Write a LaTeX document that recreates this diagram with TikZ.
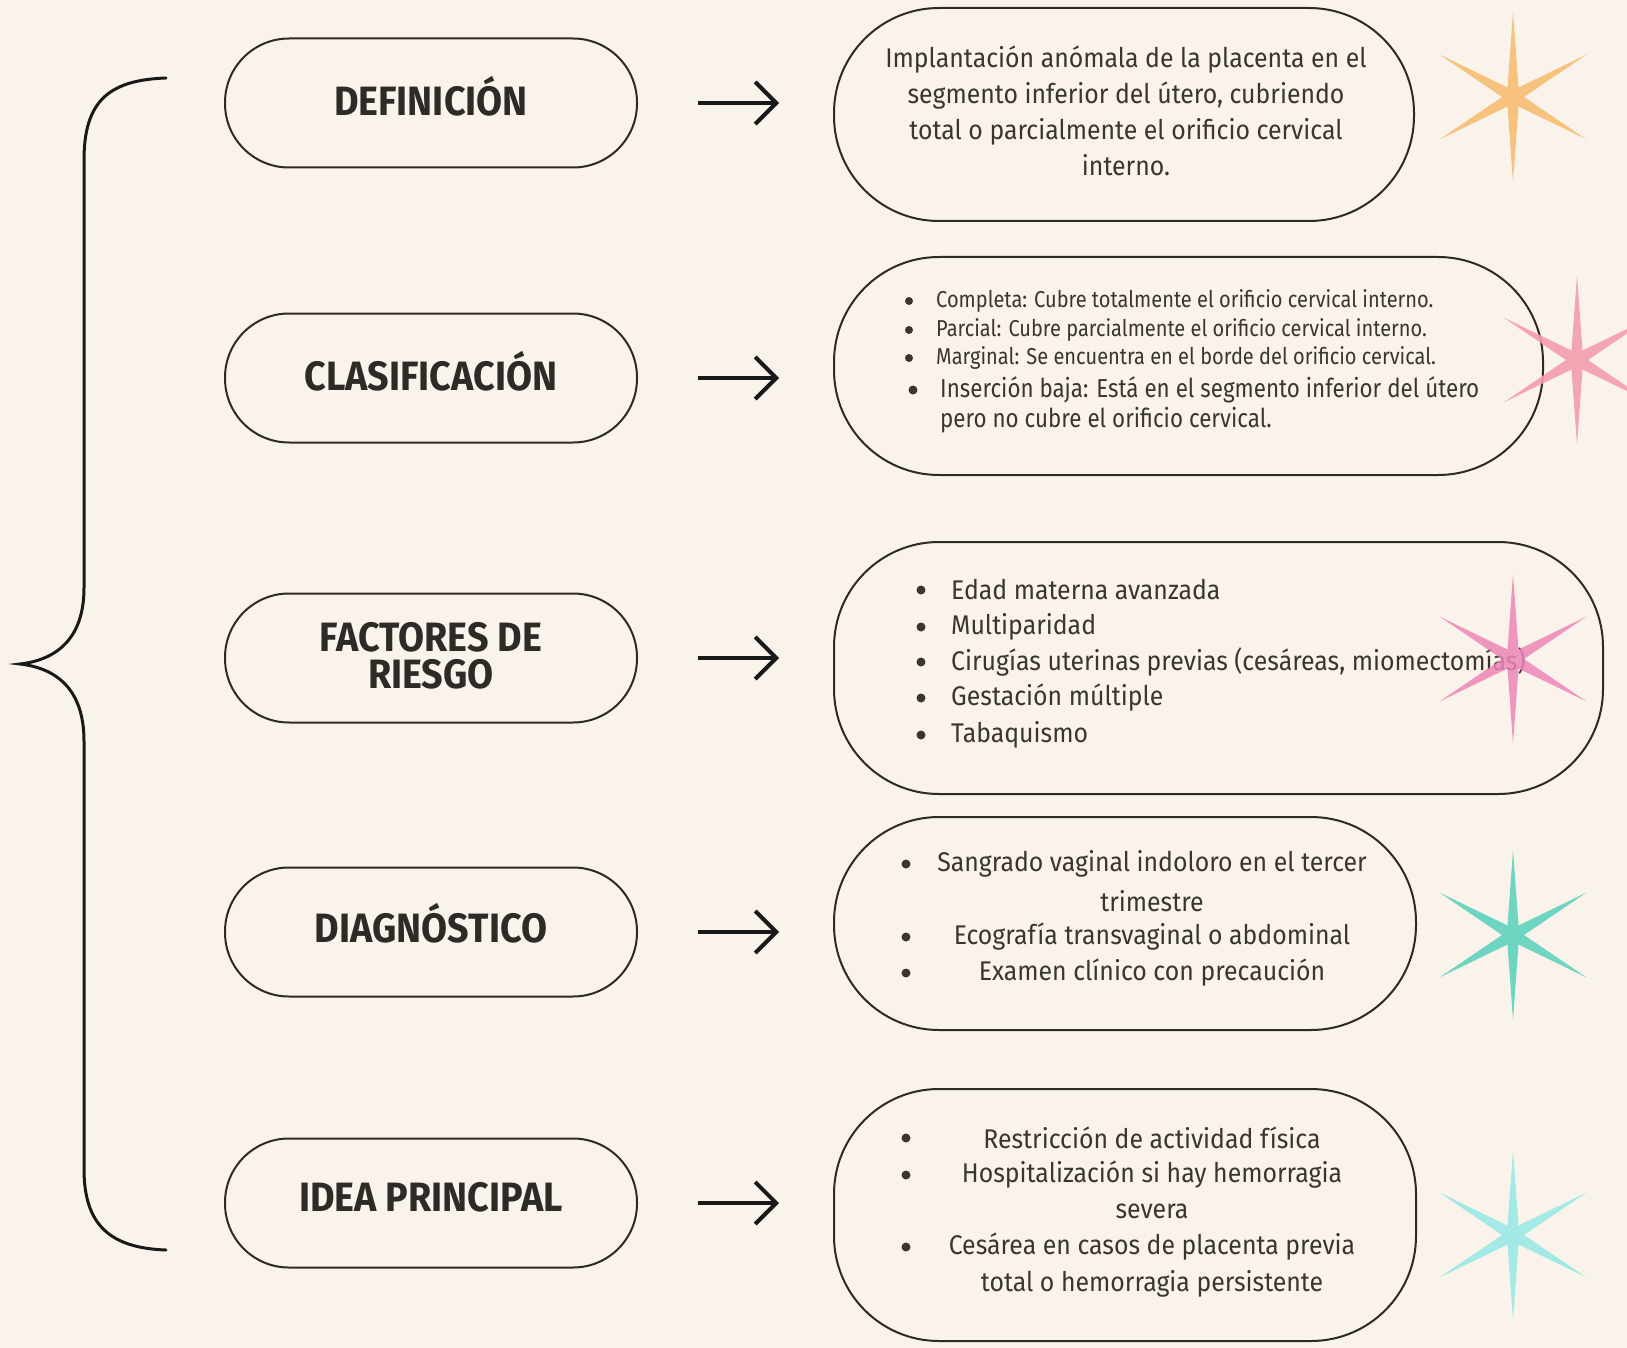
\documentclass[tikz,border=0pt]{standalone}
\usepackage{fontspec}
\usetikzlibrary{arrows.meta}
\newfontfamily\bodyf[FakeStretch=0.92]{Fira Sans}
\newfontfamily\smallf[FakeStretch=0.87]{Fira Sans}
\newfontfamily\midf[FakeStretch=0.86]{Fira Sans}
\newfontfamily\titlef[FakeStretch=0.92]{Fira Sans}
\definecolor{bg}{HTML}{FAF3EB}
\definecolor{ink}{HTML}{2E2A27}
\definecolor{txt}{HTML}{3A3531}
\definecolor{sOrange}{HTML}{F6C27E}
\definecolor{sPink}{HTML}{F39DAE}
\definecolor{sMagenta}{HTML}{EE86B8}
\definecolor{sTeal}{HTML}{6ED5C2}
\definecolor{sCyan}{HTML}{A3EAE6}
\tikzset{
  titlebox/.style={draw=ink, line width=2pt, rounded corners=64pt, minimum width=412pt,
    minimum height=129pt, inner sep=0pt},
  titletext/.style={inner sep=0pt, align=center, text=ink,
    font=\titlef\bfseries\fontsize{41}{41}\selectfont},
  infobox/.style={draw=ink, line width=2pt, rounded corners=105pt, inner sep=0pt},
  body/.style={text=txt, inner sep=0pt, font=\bodyf\fontsize{27}{36}\selectfont},
  bodysmall/.style={text=txt, inner sep=0pt, font=\smallf\fontsize{23}{28}\selectfont},
  bodymid/.style={text=txt, inner sep=0pt, font=\midf\fontsize{26}{30}\selectfont},
  bul/.style={circle, fill=txt, inner sep=0pt, minimum size=9pt},
  arr/.style={draw=black!90, line width=4pt, -{Straight Barb[length=21pt,width=42pt]}},
  sparkle/.pic={\fill (90:85) -- (60:11) -- (30:85) -- (0:11) -- (-30:85) -- (-60:11)
    -- (-90:85) -- (-120:11) -- (-150:85) -- (180:11) -- (150:85) -- (120:11) -- cycle;}
}
\begin{document}
\begin{tikzpicture}[x=1pt,y=-1pt]
\fill[bg] (0,0) rectangle (1627,1348);
\useasboundingbox (0,0) rectangle (1627,1348);

% brace
\draw[line width=3pt, black!90, line cap=round]
  (166,78) .. controls (110,80) and (84,100) .. (84,160)
  -- (84,588) .. controls (84,640) and (55,660) .. (20,664)
  .. controls (55,668) and (84,688) .. (84,741)
  -- (84,1169) .. controls (84,1225) and (110,1248) .. (166,1250);

% left boxes
\node[titlebox] (l1) at (431,103) {};
\node[titlebox] (l2) at (431,378) {};
\node[titlebox] (l3) at (431,658) {};
\node[titlebox] (l4) at (431,932) {};
\node[titlebox] (l5) at (431,1203) {};
\node[titletext] (lt1) at (431,96) {DEFINICIÓN};
\node[titletext] (lt2) at (431,371) {CLASIFICACIÓN};
\node[titletext] (lt3) at (431,656) {FACTORES DE\\[-4pt]RIESGO};
\node[titletext] (lt4) at (431,923) {DIAGNÓSTICO};
\node[titletext] (lt5) at (431,1197) {IDEA PRINCIPAL};

% right boxes
\node[infobox, minimum width=580pt, minimum height=213pt] (r1) at (1124,114.5) {};
\node[infobox, minimum width=709pt, minimum height=218pt] (r2) at (1188.5,366) {};
\node[infobox, minimum width=769pt, minimum height=252pt] (r3) at (1218.5,668) {};
\node[infobox, minimum width=582pt, minimum height=213pt] (r4) at (1125,923.5) {};
\node[infobox, minimum width=582pt, minimum height=252pt] (r5) at (1125,1215) {};

% arrows
\foreach \i in {1,...,5}{
  \draw[arr, shorten <=60pt, shorten >=54pt] (l\i.east) -- (l\i.east -| r\i.west);
}

% box 1 text
\node[body, align=center] (t1) at (1126,111) {Implantación anómala de la placenta en el\\segmento inferior del útero, cubriendo\\total o parcialmente el orificio cervical\\interno.};

% box 2 text
\foreach \y/\t in {301/{Completa: Cubre totalmente el orificio cervical interno.},
                   330/{Parcial: Cubre parcialmente el orificio cervical interno.},
                   358/{Marginal: Se encuentra en el borde del orificio cervical.}}{
  \node[bul, minimum size=8pt] at (909,\y) {};
  \node[bodysmall, anchor=west] at (936,\y) {\t};
}
\node[bul] at (913,390) {};
\node[bodymid, anchor=west] at (940,390) {Inserción baja: Está en el segmento inferior del útero};
\node[bodymid, anchor=west] at (940,420) {pero no cubre el orificio cervical.};

% box 3 text
\foreach \y/\t in {590/{Edad materna avanzada},627/{Multiparidad},
   662/{Cirugías uterinas previas (cesáreas, miomectomías)},698/{Gestación múltiple},735/{Tabaquismo}}{
  \node[bul] at (921,\y) {};
  \node[body, anchor=west] at (951,\y) {\t};
}

% box 4 text
\foreach \y in {864,937,973}{\node[bul] at (906,\y) {};}
\node[body] at (1152,864) {Sangrado vaginal indoloro en el tercer};
\node[body] at (1152,901) {trimestre};
\node[body] at (1152,937) {Ecografía transvaginal o abdominal};
\node[body] at (1152,973) {Examen clínico con precaución};

% box 5 text
\foreach \y in {1138,1175,1247}{\node[bul] at (906,\y) {};}
\node[body] at (1152,1138) {Restricción de actividad física};
\node[body] at (1152,1175) {Hospitalización si hay hemorragia};
\node[body] at (1152,1211) {severa};
\node[body] at (1152,1247) {Cesárea en casos de placenta previa};
\node[body] at (1152,1284) {total o hemorragia persistente};

% sparkles
\pic[fill=sOrange] at (1513,97) {sparkle};
\pic[fill=sPink, opacity=0.9] at (1577,360) {sparkle};
\pic[fill=sMagenta, opacity=0.85] at (1513,659) {sparkle};
\pic[fill=sTeal] at (1513,935) {sparkle};
\pic[fill=sCyan] at (1513,1235) {sparkle};
\end{tikzpicture}
\end{document}
